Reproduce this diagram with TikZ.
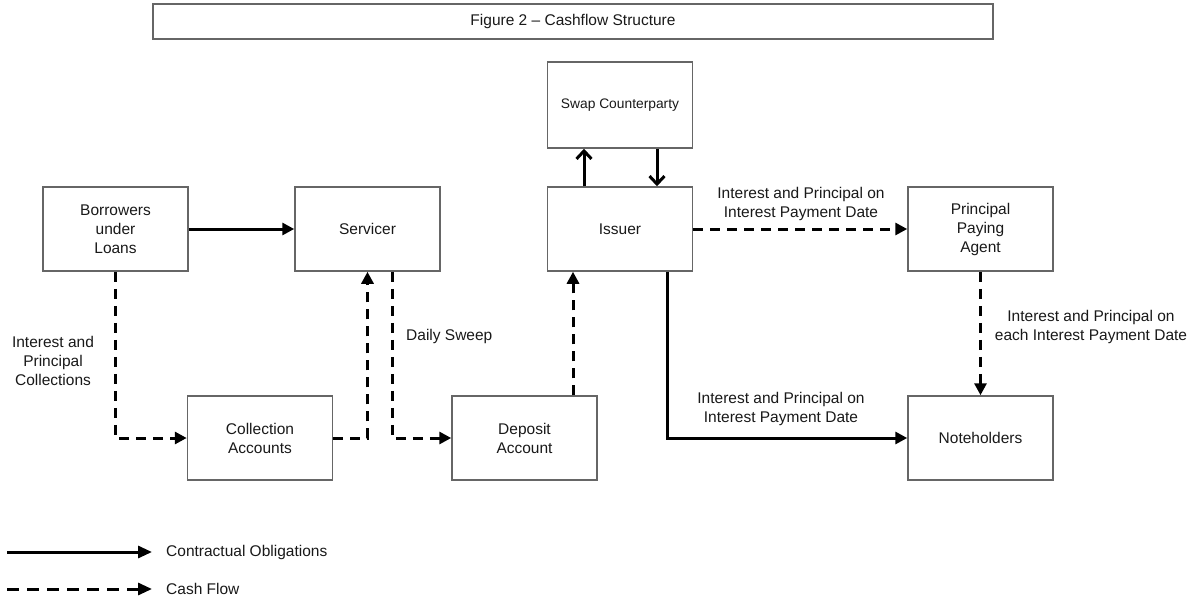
\documentclass[tikz,border=0pt]{standalone}
\usepackage{fontspec}
\setmainfont{Liberation Sans}
\usetikzlibrary{arrows.meta}
\begin{document}
\begin{tikzpicture}[x=1pt,y=-1pt,
  box/.style={draw=black!60,line width=1.5pt,rectangle,minimum width=145pt,minimum height=84pt,align=center,inner sep=0pt,font=\fontsize{15.5}{19}\selectfont,text=black!90},
  lbl/.style={align=center,inner sep=0pt,font=\fontsize{15.5}{19}\selectfont,text=black!90},
  solidarr/.style={line width=3pt,-{Triangle[length=12pt,width=12pt]}},
  cashflow/.style={line width=3pt,dash pattern=on 10pt off 7pt,-{Triangle[length=12pt,width=12pt]}},
  legdash/.style={line width=3pt,dash pattern=on 12pt off 8pt,-{Triangle[length=14pt,width=12pt]}},
  legsolid/.style={line width=3pt,-{Triangle[length=14pt,width=12pt]}},
  openarr/.style={line width=3pt,-{Straight Barb[length=8pt,width=15pt,line width=3pt]}}
]
\useasboundingbox (0,0) rectangle (1200,600);
\fill[white] (0,0) rectangle (1200,600);

\node[draw=black!60,line width=1.5pt,minimum width=840pt,minimum height=35pt,inner sep=0pt,font=\fontsize{15.5}{18}\selectfont,text=black!90] (title) at (573,21.5) {Figure 2 -- Cashflow Structure};

\node[box] (bor) at (115.5,229) {Borrowers\\under\\Loans};
\node[box] (ser) at (367.5,229) {Servicer};
\node[box,minimum height=86pt,font=\fontsize{13.8}{16}\selectfont] (swap) at (620,105) {Swap Counterparty};
\node[box] (iss) at (620,229) {Issuer};
\node[box] (ppa) at (980.5,229) {Principal\\Paying\\Agent};
\node[box] (col) at (260,438) {Collection\\Accounts};
\node[box] (dep) at (524.5,438) {Deposit\\Account};
\node[box] (note) at (980.5,438) {Noteholders};

% connectors
\draw[solidarr] (bor.east) -- (ser.west);
\draw[cashflow] (bor.south) |- (col.west);
\draw[cashflow] (col.east) -| (ser.south);
\draw[cashflow] ([xshift=24.5pt]ser.south) |- (dep.west);
\draw[cashflow] ([xshift=48.5pt]dep.north) -- ([xshift=48.5pt]dep.north |- iss.south);
\draw[solidarr] ([xshift=47pt]iss.south) |- (note.west);
\draw[cashflow] (iss.east) -- (ppa.west);
\draw[cashflow] (ppa.south) -- (note.north);
\draw[openarr] ([xshift=-36pt]iss.north) -- ([xshift=-36pt]swap.south);
\draw[openarr] ([xshift=37pt]swap.south) -- ([xshift=37pt]iss.north);

% labels
\node[lbl] (l1) at (53,361) {Interest and\\Principal\\Collections};
\node[lbl,anchor=west] (l2) at (406,336) {Daily Sweep};
\node[lbl] (l3) at (801,203.5) {Interest and Principal on\\Interest Payment Date};
\node[lbl] (l4) at (781,408.5) {Interest and Principal on\\Interest Payment Date};
\node[lbl] (l5) at (1091,326.5) {Interest and Principal on\\each Interest Payment Date};

% legend
\coordinate (a1) at (7,552);
\coordinate (a2) at (152,552);
\coordinate (b1) at (7,589);
\coordinate (b2) at (152,589);
\draw[legsolid] (a1) -- (a2);
\draw[legdash] (b1) -- (b2);
\node[lbl,anchor=west,font=\fontsize{15.5}{18}\selectfont] (lg1) at (166,552) {Contractual Obligations};
\node[lbl,anchor=west,font=\fontsize{15.5}{18}\selectfont] (lg2) at (166,589) {Cash Flow};
\end{tikzpicture}
\end{document}
